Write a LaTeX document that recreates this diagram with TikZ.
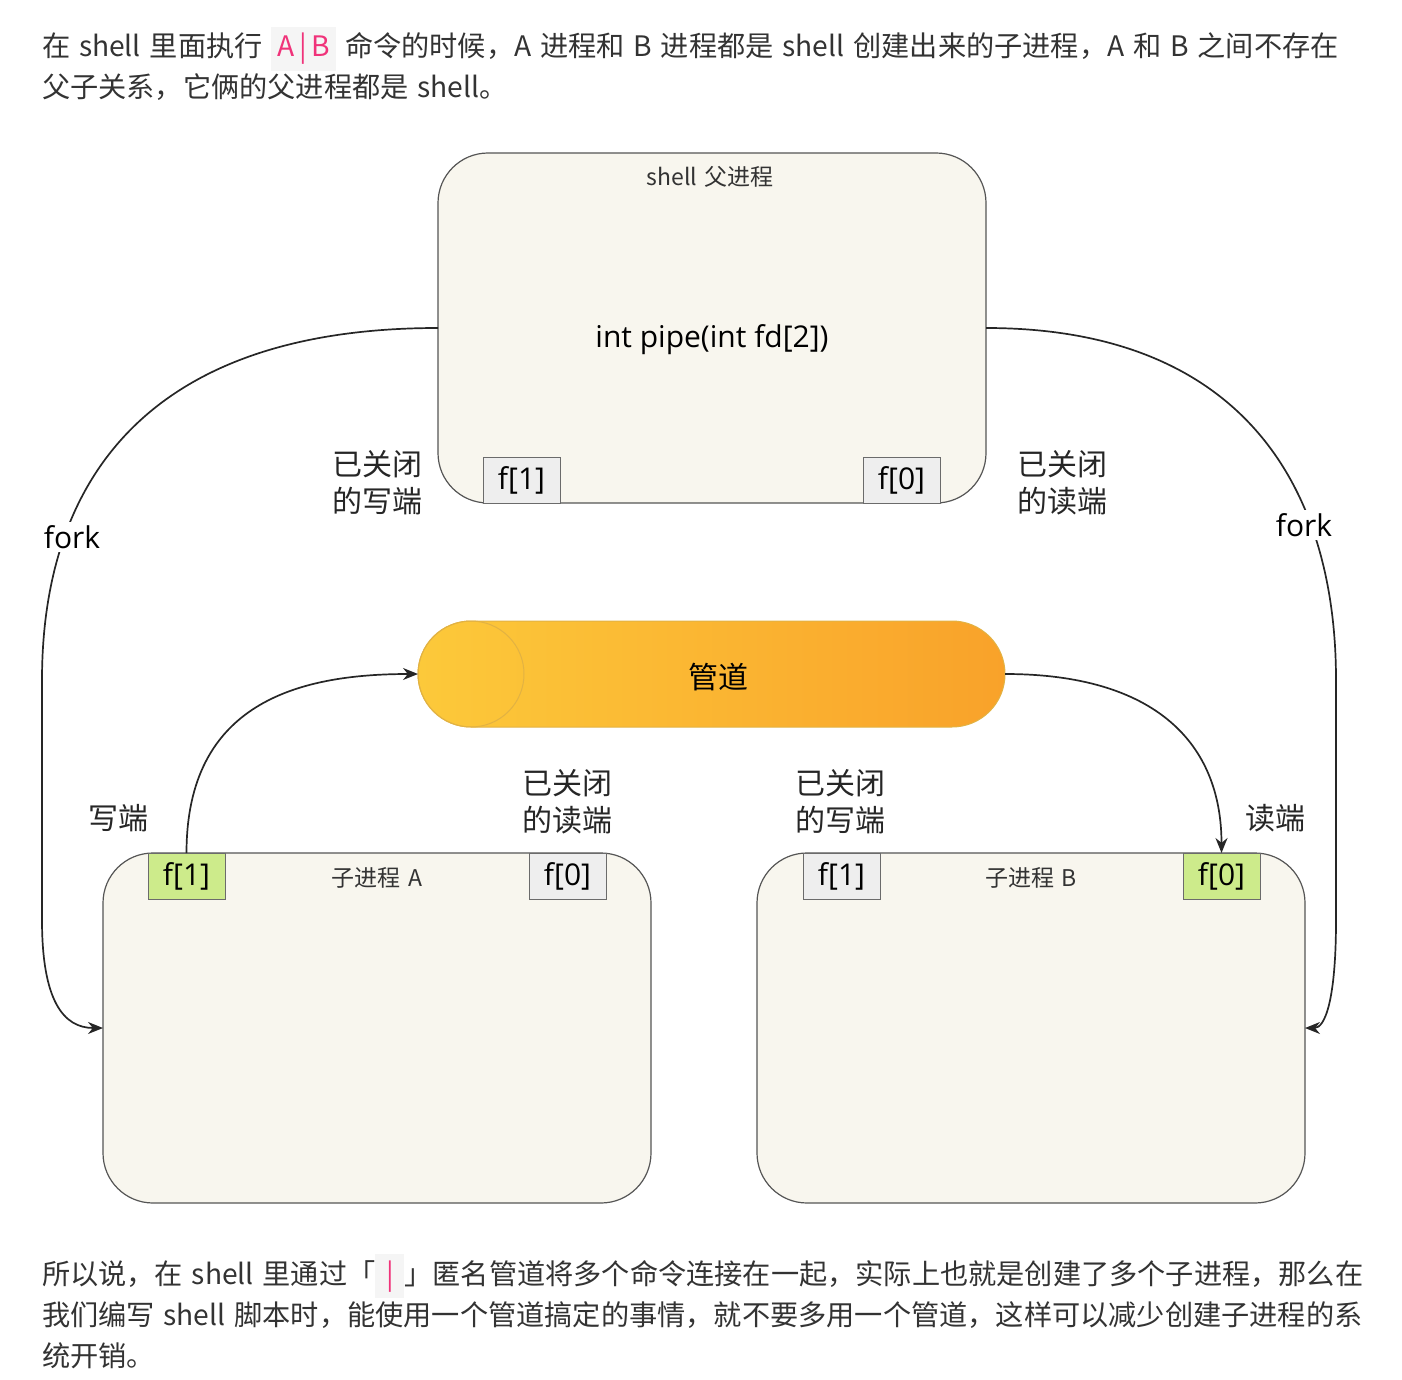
\documentclass[tikz,border=0pt]{standalone}
\usepackage{fontspec}
\setmainfont{Noto Sans CJK SC}[WordSpace=1.4]
\newfontfamily\codefont{Open Sans}
\usetikzlibrary{arrows.meta}

\definecolor{bodytext}{HTML}{333333}
\definecolor{codepink}{HTML}{F0337A}
\definecolor{codebg}{HTML}{F5F5F5}
\definecolor{boxfill}{HTML}{F8F6EE}
\definecolor{boxline}{HTML}{555555}
\definecolor{fdline}{HTML}{6B6B6B}
\definecolor{fdgray}{HTML}{EEEEEE}
\definecolor{fdgreen}{HTML}{CDEB8B}
\definecolor{pipeleft}{HTML}{FCC93A}
\definecolor{piperight}{HTML}{F9A22A}
\definecolor{pipeline}{HTML}{E2B243}
\setlength{\fboxsep}{6pt}

\begin{document}
\begin{tikzpicture}[
    x=1pt, y=-1pt,
    every node/.style={inner sep=0pt, outer sep=0pt},
    bodytxt/.style={anchor=base west, text=bodytext, font=\fontsize{28.2}{40}\selectfont},
    proc/.style={draw=boxline, fill=boxfill, line width=1.2pt, rounded corners=50pt,
                 minimum width=548pt, minimum height=350pt, anchor=north west},
    title/.style={font=\fontsize{23}{28}\selectfont, text=bodytext},
    fdbox/.style={draw=fdline, line width=1pt, minimum width=77pt, minimum height=46pt,
                  anchor=north west, font=\codefont\fontsize{30}{30}\selectfont},
    fdoff/.style={fdbox, fill=fdgray},
    fdon/.style={fdbox, fill=fdgreen},
    note/.style={align=left, font=\fontsize{30}{37}\selectfont, text=black!85},
    pipe/.style={draw=pipeline, line width=1pt, left color=pipeleft, right color=piperight,
                 minimum width=587pt, minimum height=106pt, rounded corners=53pt,
                 anchor=west, font=\fontsize{30}{30}\selectfont},
    link/.style={draw=black!85, line width=1.7pt},
    tip/.style={-{Stealth[length=15pt, width=12pt]}},
    forklbl/.style={fill=white, inner sep=3pt, font=\codefont\fontsize{30}{30}\selectfont}
]
  \useasboundingbox (0,0) rectangle (1402,1380);

  \node[bodytxt] (intro1) at (42,57)
    {在 shell 里面执行 \colorbox{codebg}{\color{codepink}A\,|\,B} 命令的时候，A 进程和 B 进程都是 shell 创建出来的子进程，A 和 B 之间不存在};
  \node[bodytxt] (intro2) at (42,98) {父子关系，它俩的父进程都是 shell。};

  % parent
  \node[proc] (shell) at (438,153) {};
  \node[title] (shelltitle) at (710,177) {shell 父进程};
  \node[font=\codefont\fontsize{30}{30}\selectfont] (pipecall) at (712,340) {int pipe(int fd[2])};
  \node[fdoff, anchor=south west] (shellfd1) at (483,503) {f[1]};
  \node[fdoff, anchor=south west] (shellfd0) at (863,503) {f[0]};
  \node[note] (shellw) at (377,483) {已关闭\\的写端};
  \node[note] (shellr) at (1062,483) {已关闭\\的读端};

  % children
  \node[proc] (childa) at (103,853) {};
  \node[title] (childatitle) at (377,878) {子进程 A};
  \node[fdon] (childafd1) at (148,853) {f[1]};
  \node[fdoff] (childafd0) at (529,853) {f[0]};
  \node[proc] (childb) at (757,853) {};
  \node[title] (childbtitle) at (1031,878) {子进程 B};
  \node[fdoff] (childbfd1) at (803,853) {f[1]};
  \node[fdon] (childbfd0) at (1183,853) {f[0]};
  \node[note] (childaw) at (118,818) {写端};
  \node[note] (childar) at (567,802) {已关闭\\的读端};
  \node[note] (childbw) at (840,802) {已关闭\\的写端};
  \node[note] (childbr) at (1275,818) {读端};

  % pipe
  \node[pipe] (pipe) at (418,674) {};
  \node[font=\fontsize{30}{30}\selectfont] (pipename) at (718,677) {管道};
  \draw[pipeline, line width=1pt] ([xshift=53pt]pipe.west) circle[radius=53pt];

  % fork
  \coordinate (lbend) at (42,680);
  \coordinate (ldown) at (42,920);
  \coordinate (rbend) at (1336,680);
  \coordinate (rdown) at (1336,920);
  \draw[link, tip] (shell.west) .. controls +(-290,0) and +(0,-200) .. (lbend)
    -- (ldown) .. controls +(0,80) and +(-40,0) .. (childa.west);
  \draw[link, tip] (shell.east) .. controls +(250,0) and +(0,-200) .. (rbend)
    -- (rdown) .. controls +(0,80) and +(20,0) .. (childb.east);
  \node[forklbl] (forka) at (72,537) {fork};
  \node[forklbl] (forkb) at (1304,525) {fork};

  \draw[link, tip] (childafd1.north) .. controls +(0,-150) and +(-120,0) .. (pipe.west);
  \draw[link, tip] (pipe.east) .. controls +(150,0) and +(0,-110) .. (childbfd0.north);

  \node[bodytxt] (outro1) at (42,1284)
    {所以说，在 shell 里通过「\colorbox{codebg}{\color{codepink}\,|\,}」匿名管道将多个命令连接在一起，实际上也就是创建了多个子进程，那么在};
  \node[bodytxt] (outro2) at (42,1325)
    {我们编写 shell 脚本时，能使用一个管道搞定的事情，就不要多用一个管道，这样可以减少创建子进程的系};
  \node[bodytxt] (outro3) at (42,1366) {统开销。};
\end{tikzpicture}
\end{document}
